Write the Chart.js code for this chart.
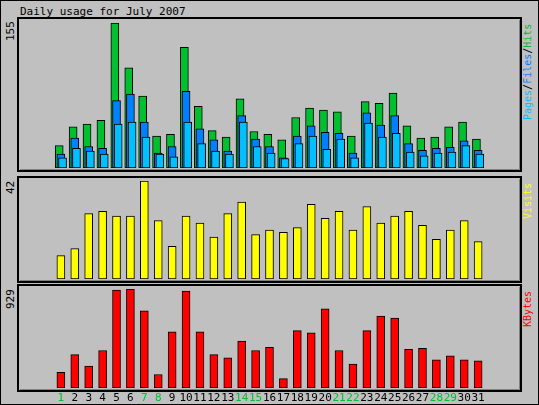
<!DOCTYPE html>
<html><head><meta charset="utf-8">
<script src="https://cdn.jsdelivr.net/npm/chart.js@4/dist/chart.umd.min.js"></script>
<style>
html,body{margin:0;padding:0;background:#c0c0c0;}
#wrap{position:relative;width:539px;height:405px;background:#c0c0c0;box-sizing:border-box;border:1px solid #000;overflow:hidden;font-family:"DejaVu Sans Mono",monospace;font-size:10px;}
canvas{position:absolute;}
.lbl{position:absolute;white-space:nowrap;line-height:10px;font-size:10px;}
.rot{transform:rotate(-90deg);transform-origin:left top;}
</style></head><body>
<div id="wrap">
<div class="lbl" style="left:19px;top:5px;font-size:11px;line-height:11px;">Daily usage for July 2007</div>
<canvas id="c1" width="505" height="155" style="left:16px;top:16px;width:505px;height:155px"></canvas>
<canvas id="c2" width="505" height="107" style="left:16px;top:175px;width:505px;height:107px"></canvas>
<canvas id="c3" width="505" height="121" style="left:16px;top:283px;width:505px;height:121px"></canvas>
<div class="lbl rot" style="left:5px;top:40px;font-size:11px">155</div>
<div class="lbl rot" style="left:5px;top:193px;font-size:11px">42</div>
<div class="lbl rot" style="left:5px;top:308px;font-size:11px">929</div>
<div class="lbl rot" style="left:522px;top:119px"><span style="color:#00c0ff">Pages</span>/<span style="color:#0080ff">Files</span>/<span style="color:#00c030">Hits</span></div>
<div class="lbl rot" style="left:522px;top:218px;color:#ffff00">Visits</div>
<div class="lbl rot" style="left:522px;top:326px;color:#ff0000">KBytes</div>
</div>
<script>
const days = Array.from({length:31},(_,i)=>i+1);
const weekendDays = [1,7,8,14,15,21,22,28,29];
const hits   = [24,44,47,51,155,107,77,34,36,129,66,40,33,74,39,36,30,54,64,62,60,34,71,69,80,45,32,33,44,49,31];
const files  = [15,32,23,21,72,79,49,16,23,82,42,30,18,56,31,23,11,34,45,38,37,16,59,46,56,26,19,21,22,29,19];
const pages  = [11,21,18,15,47,49,33,15,12,49,26,18,15,49,23,16,10,26,34,20,31,11,48,33,37,17,13,16,17,24,15];
const visits = [10,13,28,29,27,27,42,25,14,27,24,18,28,33,19,21,20,22,32,26,29,21,31,24,27,29,23,17,21,25,16];
const kbytes = [147,313,205,352,919,929,724,127,528,909,528,313,284,440,352,381,88,538,518,743,352,225,538,675,655,362,372,264,303,264,254];
const maxHits = 155, maxVisits = 42, maxKB = 929;

const frame = (fh)=>({id:'frame',beforeDraw(ch){const c=ch.ctx;const h=fh||ch.height;c.save();c.fillStyle='#c0c0c0';c.fillRect(0,0,ch.width,h);
 c.strokeStyle='#000';c.lineWidth=2;c.strokeRect(1,1,ch.width-2,h-2);c.strokeStyle='#808080';c.lineWidth=1;c.beginPath();c.moveTo(ch.width-2.5,3);c.lineTo(ch.width-2.5,h-2.5);c.lineTo(3,h-2.5);c.stroke();c.restore();}});

function ds(vals,color,off,order){return {data:vals.map((v,i)=>({x:days[i]+off,y:v})),backgroundColor:color,borderColor:'#000',borderWidth:1,barThickness:8,grouped:false,order:order,borderSkipped:false};}
function opts(max,pad){return {responsive:false,animation:false,events:[],layout:{padding:pad},
 plugins:{legend:{display:false},tooltip:{enabled:false}},
 scales:{x:{type:'linear',min:0.5,max:31.5,display:false},y:{min:0,max:max,display:false}}};}

new Chart(document.getElementById('c1'),{type:'bar',data:{datasets:[ds(hits,'#00c030',-0.12,3),ds(files,'#0080ff',0,2),ds(pages,'#00c0ff',0.12,1)]},options:opts(maxHits,{top:6,bottom:4,left:1,right:1}),plugins:[frame()]});
new Chart(document.getElementById('c2'),{type:'bar',data:{datasets:[ds(visits,'#ffff00',0,1)]},options:opts(maxVisits,{top:5,bottom:4,left:1,right:1}),plugins:[frame()]});
new Chart(document.getElementById('c3'),{type:'bar',data:{datasets:[ds(kbytes,'#ff0000',0,1)]},options:opts(maxKB,{top:5,bottom:17,left:1,right:1}),
 plugins:[frame(108),{id:'days',afterDraw(ch){const c=ch.ctx,xs=ch.scales.x;c.save();c.font='11px "DejaVu Sans Mono",monospace';c.textAlign='center';c.textBaseline='middle';
  days.forEach(d=>{c.fillStyle=weekendDays.includes(d)?'#00c030':'#000';c.fillText(String(d),xs.getPixelForValue(d),114);});c.restore();}}]});
</script>
</body></html>
